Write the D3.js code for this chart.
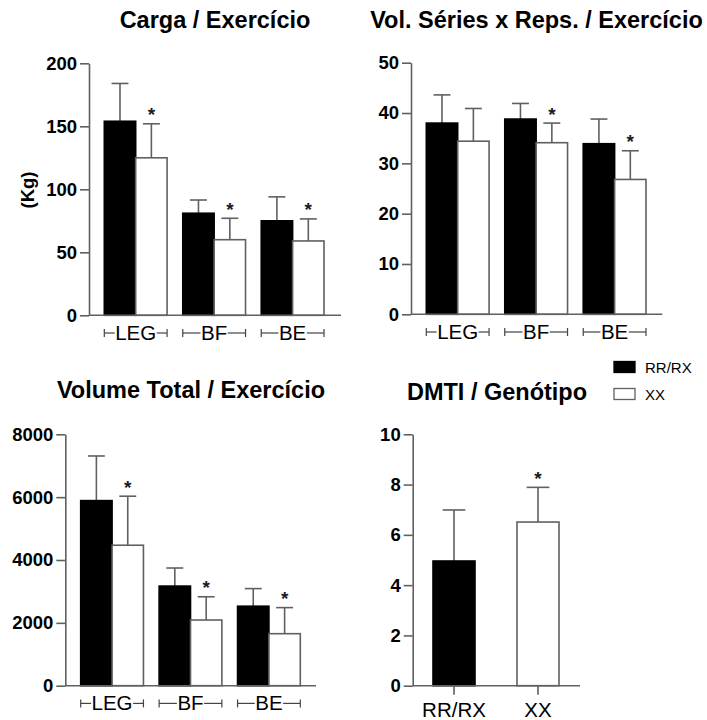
<!DOCTYPE html>
<html>
<head>
<meta charset="utf-8">
<script src="https://cdn.jsdelivr.net/npm/d3@7"></script>
<style>
  html, body { margin: 0; padding: 0; background: #fff; }
  svg { display: block; font-family: "Liberation Sans", Arial, sans-serif; }
</style>
</head>
<body>
<svg id="chart" width="707" height="720"></svg>
<script>
// ---------------- DATA ----------------
const exercises = ["LEG", "BF", "BE"];
const genotypes = ["RR/RX", "XX"];

// Carga / Exercício (Kg)
const cargaMeanRR = [154, 81, 75];
const cargaSdRR   = [30, 10.5, 19];
const cargaMeanXX = [125, 60, 59];
const cargaSdXX   = [27, 17, 17.5];
const cargaSigXX  = [true, true, true];
const cargaTicks  = [0, 50, 100, 150, 200];

// Vol. Séries x Reps. / Exercício
const volMeanRR = [38.0, 38.8, 33.9];
const volSdRR   = [5.6, 3.1, 4.9];
const volMeanXX = [34.4, 34.1, 26.8];
const volSdXX   = [6.5, 3.9, 5.7];
const volSigXX  = [false, true, true];
const volTicks  = [0, 10, 20, 30, 40, 50];

// Volume Total / Exercício
const totMeanRR = [5890, 3170, 2530];
const totSdRR   = [1420, 575, 560];
const totMeanXX = [4470, 2090, 1655];
const totSdXX   = [1560, 740, 830];
const totSigXX  = [true, true, true];
const totTicks  = [0, 2000, 4000, 6000, 8000];

// DMTI / Genótipo
const dmtiMean = [4.96, 6.51];
const dmtiSd   = [2.03, 1.38];
const dmtiSig  = [false, true];
const dmtiTicks = [0, 2, 4, 6, 8, 10];

const titles = ["Carga / Exercício", "Vol. Séries x Reps. / Exercício", "Volume Total / Exercício", "DMTI / Genótipo"];
const yLabel = "(Kg)";

// ---------------- STYLE ----------------
const fills = { "RR/RX": "#000000", "XX": "#ffffff" };
const lineColor = "#606060";
const lineW = 1.6;
const FONT = "'Liberation Sans', Arial, sans-serif";

const svg = d3.select("#chart");

function groupedRows(meanRR, sdRR, meanXX, sdXX, sigXX) {
  return exercises.flatMap((c, i) => [
    { cat: c, g: "RR/RX", mean: meanRR[i], sd: sdRR[i], sig: false },
    { cat: c, g: "XX", mean: meanXX[i], sd: sdXX[i], sig: sigXX[i] }
  ]);
}

function drawPanel(cfg) {
  const g = svg.append("g");
  const y = d3.scaleLinear().domain([0, d3.max(cfg.ticks)]).range([cfg.yZero, cfg.yTop]);
  const x0 = d3.scaleBand().domain(cfg.cats).range(cfg.band).paddingInner(cfg.padIn).paddingOuter(0);
  const x1 = d3.scaleBand().domain(cfg.grouped ? genotypes : ["one"]).range([0, x0.bandwidth()]);

  const bw = x1.bandwidth();
  const xOf = d => x0(d.cat) + (cfg.grouped ? x1(d.g) : 0);
  const capW = bw * 0.54;

  // title
  g.append("text")
    .attr("x", cfg.titleX).attr("y", cfg.titleY)
    .attr("text-anchor", "middle")
    .attr("font-size", 23.5).attr("font-weight", "bold").attr("fill", "#000")
    .text(cfg.title);

  // error bars (upper only)
  const eb = g.append("g").attr("stroke", lineColor).attr("stroke-width", lineW);
  cfg.rows.forEach(d => {
    const cx = xOf(d) + bw / 2;
    eb.append("line").attr("x1", cx).attr("x2", cx).attr("y1", y(d.mean)).attr("y2", y(d.mean + d.sd));
    eb.append("line").attr("x1", cx - capW / 2).attr("x2", cx + capW / 2)
      .attr("y1", y(d.mean + d.sd)).attr("y2", y(d.mean + d.sd));
  });

  // bars
  g.append("g").selectAll("rect").data(cfg.rows).join("rect")
    .attr("x", d => xOf(d))
    .attr("y", d => y(d.mean))
    .attr("width", bw)
    .attr("height", d => y(0) - y(d.mean))
    .attr("fill", d => fills[d.g])
    .attr("stroke", d => d.g === "RR/RX" ? "#000" : lineColor)
    .attr("stroke-width", lineW);

  // significance
  g.append("g").selectAll("text").data(cfg.rows.filter(d => d.sig)).join("text")
    .attr("x", d => xOf(d) + bw / 2)
    .attr("y", d => y(d.mean + d.sd) - 2.5)
    .attr("text-anchor", "middle")
    .attr("font-size", 19).attr("font-weight", "bold").attr("fill", "#1a1a2a")
    .text("*");

  // y axis
  const ax = g.append("g").attr("transform", `translate(${cfg.yAxisX},0)`)
    .call(d3.axisLeft(y).tickValues(cfg.ticks).tickFormat(d3.format("d"))
      .tickSize(9).tickPadding(3).tickSizeOuter(0));
  ax.select(".domain").attr("stroke", lineColor).attr("stroke-width", lineW);
  ax.selectAll(".tick line").attr("stroke", lineColor).attr("stroke-width", lineW);
  ax.selectAll(".tick text").attr("font-size", 18.5).attr("font-weight", "bold")
    .attr("fill", "#000").attr("font-family", FONT);

  // x axis line
  g.append("line").attr("x1", cfg.yAxisX).attr("x2", cfg.xEnd)
    .attr("y1", cfg.yZero).attr("y2", cfg.yZero)
    .attr("stroke", lineColor).attr("stroke-width", lineW);

  if (cfg.grouped) {
    // bracket labels  |-LEG-|
    cfg.cats.forEach(c => {
      const left = x0(c), right = x0(c) + x0.bandwidth(), cx = (left + right) / 2;
      const base = cfg.yZero + 24.7, mid = base - 7;
      const t = g.append("text").attr("x", cx).attr("y", base)
        .attr("text-anchor", "middle").attr("font-size", 20.5).attr("fill", "#000").text(c);
      const w = t.node().getComputedTextLength();
      const br = g.append("g").attr("stroke", "#444").attr("stroke-width", 1.2);
      br.append("line").attr("x1", left).attr("x2", cx - w / 2 - 0.5).attr("y1", mid).attr("y2", mid);
      br.append("line").attr("x1", cx + w / 2 + 0.5).attr("x2", right).attr("y1", mid).attr("y2", mid);
      br.append("line").attr("x1", left).attr("x2", left).attr("y1", mid - 4).attr("y2", mid + 4);
      br.append("line").attr("x1", right).attr("x2", right).attr("y1", mid - 4).attr("y2", mid + 4);
    });
  } else {
    const xa = g.append("g").attr("transform", `translate(0,${cfg.yZero})`)
      .call(d3.axisBottom(x0).tickSize(9).tickPadding(8).tickSizeOuter(0));
    xa.select(".domain").remove();
    xa.selectAll(".tick line").attr("stroke", lineColor).attr("stroke-width", lineW);
    xa.selectAll(".tick text").attr("font-size", 20.5).attr("fill", "#000")
      .attr("font-family", FONT);
  }
  return g;
}

drawPanel({
  title: titles[0], titleX: 215, titleY: 28,
  yAxisX: 89, xEnd: 341, yTop: 63.3, yZero: 315.3, ticks: cargaTicks,
  cats: exercises, band: [104.3, 324], padIn: 0.2, grouped: true,
  rows: groupedRows(cargaMeanRR, cargaSdRR, cargaMeanXX, cargaSdXX, cargaSigXX)
});
drawPanel({
  title: titles[1], titleX: 536.5, titleY: 28,
  yAxisX: 411, xEnd: 662.3, yTop: 62.7, yZero: 314.3, ticks: volTicks,
  cats: exercises, band: [426.3, 646], padIn: 0.2, grouped: true,
  rows: groupedRows(volMeanRR, volSdRR, volMeanXX, volSdXX, volSigXX)
});
drawPanel({
  title: titles[2], titleX: 191, titleY: 398,
  yAxisX: 65.3, xEnd: 316, yTop: 434.3, yZero: 685.7, ticks: totTicks,
  cats: exercises, band: [80.7, 300.3], padIn: 0.2, grouped: true,
  rows: groupedRows(totMeanRR, totSdRR, totMeanXX, totSdXX, totSigXX)
});
drawPanel({
  title: titles[3], titleX: 497, titleY: 400,
  yAxisX: 412.7, xEnd: 580, yTop: 434.3, yZero: 685.7, ticks: dmtiTicks,
  cats: genotypes, band: [433, 559], padIn: 0.5, grouped: false,
  rows: genotypes.map((gname, i) => ({ cat: gname, g: gname, mean: dmtiMean[i], sd: dmtiSd[i], sig: dmtiSig[i] }))
});

// y label
svg.append("text")
  .attr("transform", "translate(34,190) rotate(-90)")
  .attr("text-anchor", "middle")
  .attr("font-size", 18.5).attr("font-weight", "bold").attr("fill", "#000")
  .text(yLabel);

// legend
const leg = svg.append("g");
genotypes.forEach((gname, i) => {
  const yy = 361.5 + i * 27;
  leg.append("rect").attr("x", 614).attr("y", yy).attr("width", 21).attr("height", 11)
    .attr("fill", fills[gname]).attr("stroke", gname === "RR/RX" ? "#000" : lineColor).attr("stroke-width", 1.3);
  leg.append("text").attr("x", 645).attr("y", yy + 11)
    .attr("font-size", 15).attr("fill", "#000").text(gname);
});
</script>
</body>
</html>
